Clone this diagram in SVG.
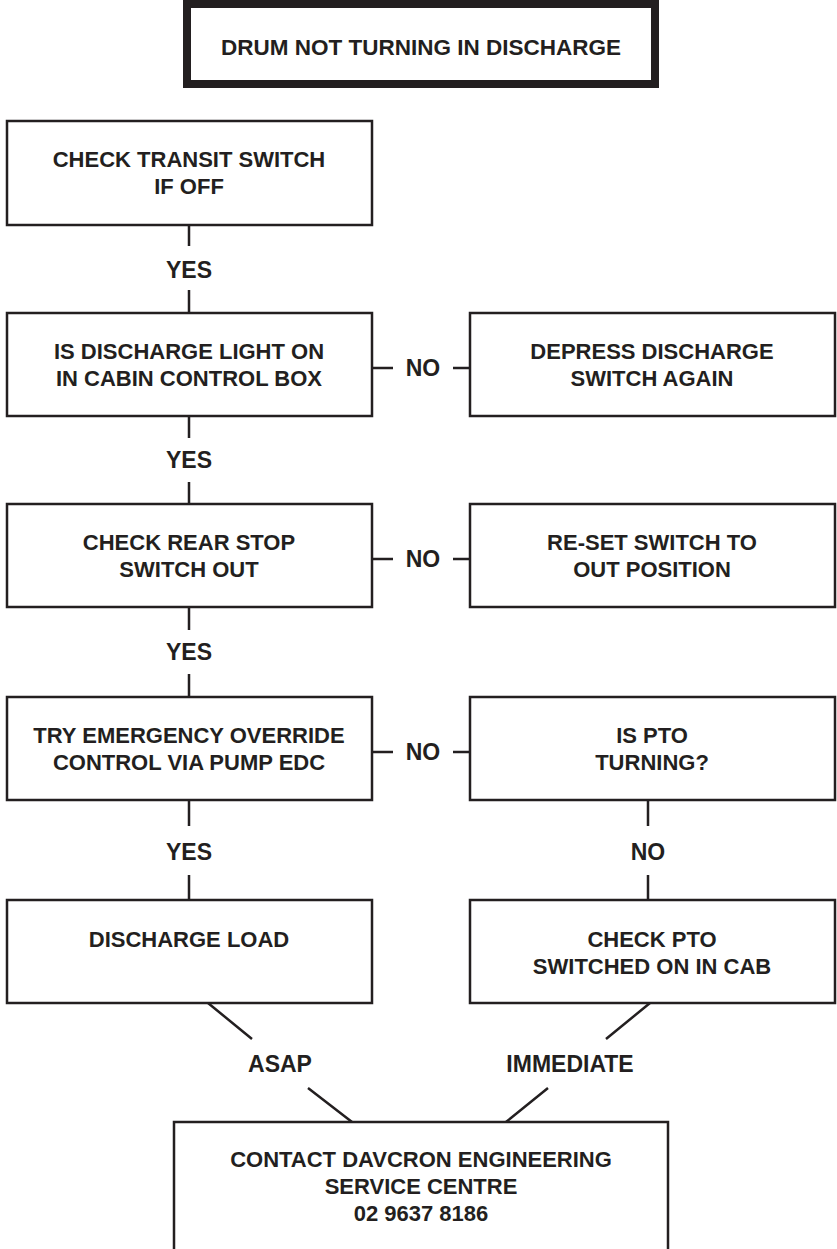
<svg xmlns="http://www.w3.org/2000/svg" width="837" height="1249" viewBox="0 0 837 1249">
<style>
.box{fill:#fff;stroke:#231f20;stroke-width:2.5}
.title{fill:#fff;stroke:#231f20;stroke-width:8}
.ln{stroke:#231f20;stroke-width:2.5;fill:none}
text{font-family:"Liberation Sans",Arial,sans-serif;font-weight:bold;font-size:22px;fill:#231f20;text-anchor:middle}
.t{font-size:22.5px}
.lb{font-size:23px}
</style>
<rect width="837" height="1249" fill="#fff"/>
<g id="connectors">
<path class="ln" d="M189 225V246M189 290V313"/>
<path class="ln" d="M372 368H393M453 368H470"/>
<path class="ln" d="M189 416V438M189 482V504"/>
<path class="ln" d="M372 559H393M453 559H470"/>
<path class="ln" d="M189 607V630M189 674V697"/>
<path class="ln" d="M372 752H393M453 752H470"/>
<path class="ln" d="M189 800V826M189 875V900"/>
<path class="ln" d="M648 800V826M648 875V900"/>
<path class="ln" d="M208 1003L252 1039M308 1088L352 1122"/>
<path class="ln" d="M650 1003L606 1039M548 1088L506 1122"/>
<text class="lb" x="189" y="278">YES</text>
<text class="lb" x="189" y="468">YES</text>
<text class="lb" x="189" y="660">YES</text>
<text class="lb" x="189" y="860">YES</text>
<text class="lb" x="423" y="376">NO</text>
<text class="lb" x="423" y="567">NO</text>
<text class="lb" x="423" y="760">NO</text>
<text class="lb" x="648" y="860">NO</text>
<text class="lb" x="280" y="1072">ASAP</text>
<text class="lb" x="570" y="1072">IMMEDIATE</text>
</g>
<g id="title"><rect class="title" x="187" y="4" width="468" height="80"/><text class="t" x="421" y="55">DRUM NOT TURNING IN DISCHARGE</text></g>
<g id="n1"><rect class="box" x="7" y="121" width="365" height="104"/><text x="189" y="167">CHECK TRANSIT SWITCH</text><text x="189" y="194">IF OFF</text></g>
<g id="n2"><rect class="box" x="7" y="313" width="365" height="103"/><text x="189" y="359">IS DISCHARGE LIGHT ON</text><text x="189" y="386">IN CABIN CONTROL BOX</text></g>
<g id="n2r"><rect class="box" x="470" y="313" width="365" height="103"/><text x="652" y="359">DEPRESS DISCHARGE</text><text x="652" y="386">SWITCH AGAIN</text></g>
<g id="n3"><rect class="box" x="7" y="504" width="365" height="103"/><text x="189" y="550">CHECK REAR STOP</text><text x="189" y="577">SWITCH OUT</text></g>
<g id="n3r"><rect class="box" x="470" y="504" width="365" height="103"/><text x="652" y="550">RE-SET SWITCH TO</text><text x="652" y="577">OUT POSITION</text></g>
<g id="n4"><rect class="box" x="7" y="697" width="365" height="103"/><text x="189" y="743">TRY EMERGENCY OVERRIDE</text><text x="189" y="770">CONTROL VIA PUMP EDC</text></g>
<g id="n4r"><rect class="box" x="470" y="697" width="365" height="103"/><text x="652" y="743">IS PTO</text><text x="652" y="770">TURNING?</text></g>
<g id="n5"><rect class="box" x="7" y="900" width="365" height="103"/><text x="189" y="947">DISCHARGE LOAD</text></g>
<g id="n5r"><rect class="box" x="470" y="900" width="365" height="103"/><text x="652" y="947">CHECK PTO</text><text x="652" y="974">SWITCHED ON IN CAB</text></g>
<g id="n6"><rect class="box" x="174" y="1122" width="494" height="140"/><text x="421" y="1167">CONTACT DAVCRON ENGINEERING</text><text x="421" y="1194">SERVICE CENTRE</text><text x="421" y="1221">02 9637 8186</text></g>
</svg>
